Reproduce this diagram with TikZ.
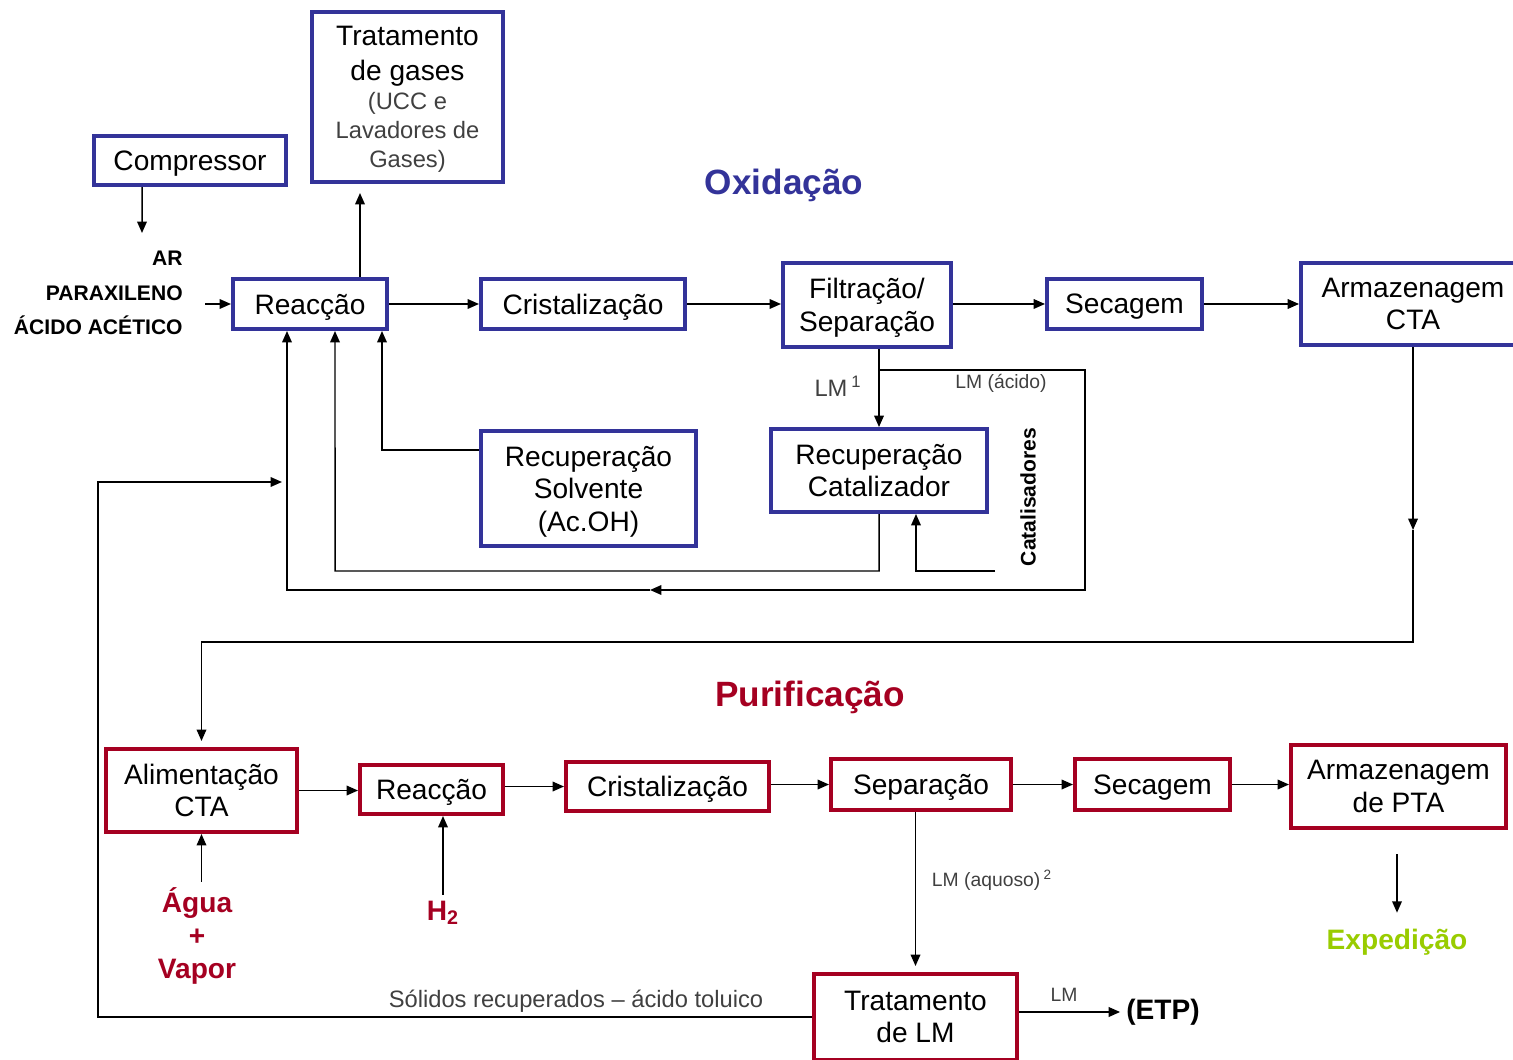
\documentclass[tikz,border=0pt]{standalone}
\usepackage{fontspec}
\setmainfont{Liberation Sans}
\usetikzlibrary{positioning}
\usetikzlibrary{arrows.meta}
\usepackage{xcolor}
\definecolor{oxblue}{RGB}{51,51,153}
\definecolor{purred}{RGB}{165,0,33}
\definecolor{expgreen}{RGB}{153,204,0}
\newcommand{\boxfont}{\fontsize{16}{18.5}\selectfont}
\newcommand{\notefont}{\fontsize{13.5}{16.5}\selectfont\color{black!75}}

\begin{document}
\begin{tikzpicture}[x=0.02cm, y=-0.02cm,
    oxbox/.style={draw=oxblue, line width=2.3pt, rectangle, align=center, font=\boxfont, inner sep=0pt, text depth=0pt},
    purbox/.style={draw=purred, line width=2.3pt, rectangle, align=center, font=\boxfont, inner sep=0pt, text depth=0pt},
    arr/.style={-{Triangle[length=6.5pt,width=5.5pt]}, line width=0.85pt},
    note/.style={font=\fontsize{11}{13}\selectfont, text=black!75},
    tag/.style={font=\bfseries\fontsize{12}{19.8}\selectfont},
    title/.style={font=\bfseries\fontsize{20}{24}\selectfont},
    feedlabel/.style={font=\bfseries\fontsize{16}{18.7}\selectfont, align=center}]
            \useasboundingbox (0,0) rectangle (1513,1060);

            \node[oxbox, minimum width=3.84cm, minimum height=0.98cm] (comp) at (190,160.5) {Compressor};
            \node[oxbox, minimum width=3.82cm, minimum height=3.4cm] (gas) at (407.5,97) {Tratamento\\[1.5pt]de gases\\[-2pt]{\notefont(UCC e}\\[-2pt]{\notefont Lavadores de}\\[-2pt]{\notefont Gases)}};
            \node[oxbox, minimum width=3.08cm, minimum height=1cm] (reac) at (310,304) {Reacção};
            \node[oxbox, minimum width=4.08cm, minimum height=1cm] (crist) at (583,304) {Cristalização};
            \node[oxbox, minimum width=3.36cm, minimum height=1.68cm] (filt) at (867,305) {Filtração/\\Separação};
            \node[oxbox, minimum width=3.1cm, minimum height=1cm] (sec) at (1124.5,304) {Secagem};
            \node[oxbox, minimum width=4.48cm, minimum height=1.64cm] (arm) at (1413,304) {Armazenagem\\CTA};
            \node[oxbox, minimum width=4.3cm, minimum height=2.3cm] (rsol) at (588.5,488.5) {Recuperação\\Solvente\\(Ac.OH)};
            \node[oxbox, minimum width=4.32cm, minimum height=1.66cm] (rcat) at (879,470.5) {Recuperação\\Catalizador};

            \node[purbox, minimum width=3.82cm, minimum height=1.66cm] (alim) at (201.5,790.5) {Alimentação\\CTA};
            \node[purbox, minimum width=2.86cm, minimum height=0.98cm] (preac) at (431.5,789.5) {Reacção};
            \node[purbox, minimum width=4.06cm, minimum height=0.98cm] (pcrist) at (667.5,786.5) {Cristalização};
            \node[purbox, minimum width=3.6cm, minimum height=1.02cm] (sep) at (921,784.5) {Separação};
            \node[purbox, minimum width=3.1cm, minimum height=1.02cm] (psec) at (1152.5,784.5) {Secagem};
            \node[purbox, minimum width=4.3cm, minimum height=1.66cm] (pta) at (1398.5,786.5) {Armazenagem\\de PTA};
            \node[purbox, minimum width=4.06cm, minimum height=1.72cm] (tlm) at (915.5,1017) {Tratamento\\de LM};

            \node[title, text=oxblue] (oxtitle) at (784,185) {Oxidação};
            \node[title, text=purred] (purtitle) at (810,697) {Purificação};

            \node[tag, align=right, anchor=east, inner xsep=0.44cm] (feed) at (205,293) {AR\\PARAXILENO\\ÁCIDO ACÉTICO};
            \node[tag, rotate=90] (catl) at (1028,497) {Catalisadores};
            \node[font=\fontsize{13.5}{15}\selectfont, text=black!75] (lm1) at (838,386) {LM\,\textsuperscript{1}};
            \node[note] (lmacid) at (1001,383) {LM (ácido)};
            \node[note] (lmaq) at (992,880) {LM (aquoso)\,\textsuperscript{2}};
            \node[note] (lmetp) at (1064,995) {LM};
            \node[font=\fontsize{13.5}{15}\selectfont, text=black!75] (solid) at (576,1001) {Sólidos recuperados – ácido toluico};
            \node[feedlabel] (etp) at (1163,1012) {(ETP)};
            \node[feedlabel, text=purred] (agua) at (197,936) {Água\\+\\Vapor};
            \node[feedlabel, text=purred] (h2) at (443,913) {H\textsubscript{2}};
            \node[feedlabel, text=expgreen] (exped) at (1397,942) {Expedição};

            \coordinate (airin) at (142,233);
            \coordinate (lmsplit) at (879,370);
            \coordinate (acidturn) at (1085,590);
            \coordinate (acidmid) at (650,590);
            \coordinate (catin) at (995,571);
            \coordinate (ctamid) at (1413,530);
            \coordinate (solend) at (282,482);

            \draw[arr] ([xshift=-0.96cm]comp.south) -- (airin);
            \draw[arr] (feed.east |- reac.west) -- (reac.west);
            \draw[arr, shorten >=0.18cm] ([xshift=1cm]reac.north) -- ([xshift=1cm]reac.north |- gas.south);
            \draw[arr] (reac.east) -- (crist.west);
            \draw[arr] (crist.east) -- (crist.east -| filt.west);
            \draw[arr] (filt.east |- sec.west) -- (sec.west);
            \draw[arr] (sec.east) -- (sec.east -| arm.west);
            \draw[arr] (filt.south -| rcat.north) -- (rcat.north);
            \draw[arr] (lmsplit) -| (acidturn) -- (acidmid);
            \draw[arr] (acidmid) -| ([xshift=-0.46cm]reac.south);
            \draw[arr] (rcat.south) |- (335,571) -- ([xshift=0.5cm]reac.south);
            \draw[arr] (catin) -| ([xshift=0.74cm]rcat.south);
            \draw[arr] ([yshift=0.77cm]rsol.west) -| ([xshift=1.44cm]reac.south);
            \draw[arr] (arm.south) -- (ctamid);
            \draw[arr, shorten >=0.12cm] (ctamid) |- (alim.north |- 0,642) -- (alim.north);
            \draw[arr] (tlm.west) -| (98,482) -- (solend);

            \draw[arr] (alim.east) -- (alim.east -| preac.west);
            \draw[arr] (preac.east |- pcrist.west) -- (pcrist.west);
            \draw[arr] (pcrist.east |- sep.west) -- (sep.west);
            \draw[arr] (sep.east) -- (psec.west);
            \draw[arr] (psec.east) -- (psec.east -| pta.west);
            \draw[arr] (agua.north -| alim.south) -- (alim.south);
            \draw[arr] (h2.north) -- (h2.north |- preac.south);
            \draw[arr, shorten >=0.12cm] (sep.south -| tlm.north) -- (tlm.north);
            \draw[arr] (tlm.east |- etp.west) -- (etp.west);
            \draw[arr, shorten >=0.2cm] ([yshift=-0.48cm]pta.south -| exped.north) -- (exped.north);
        \end{tikzpicture}
\end{document}
